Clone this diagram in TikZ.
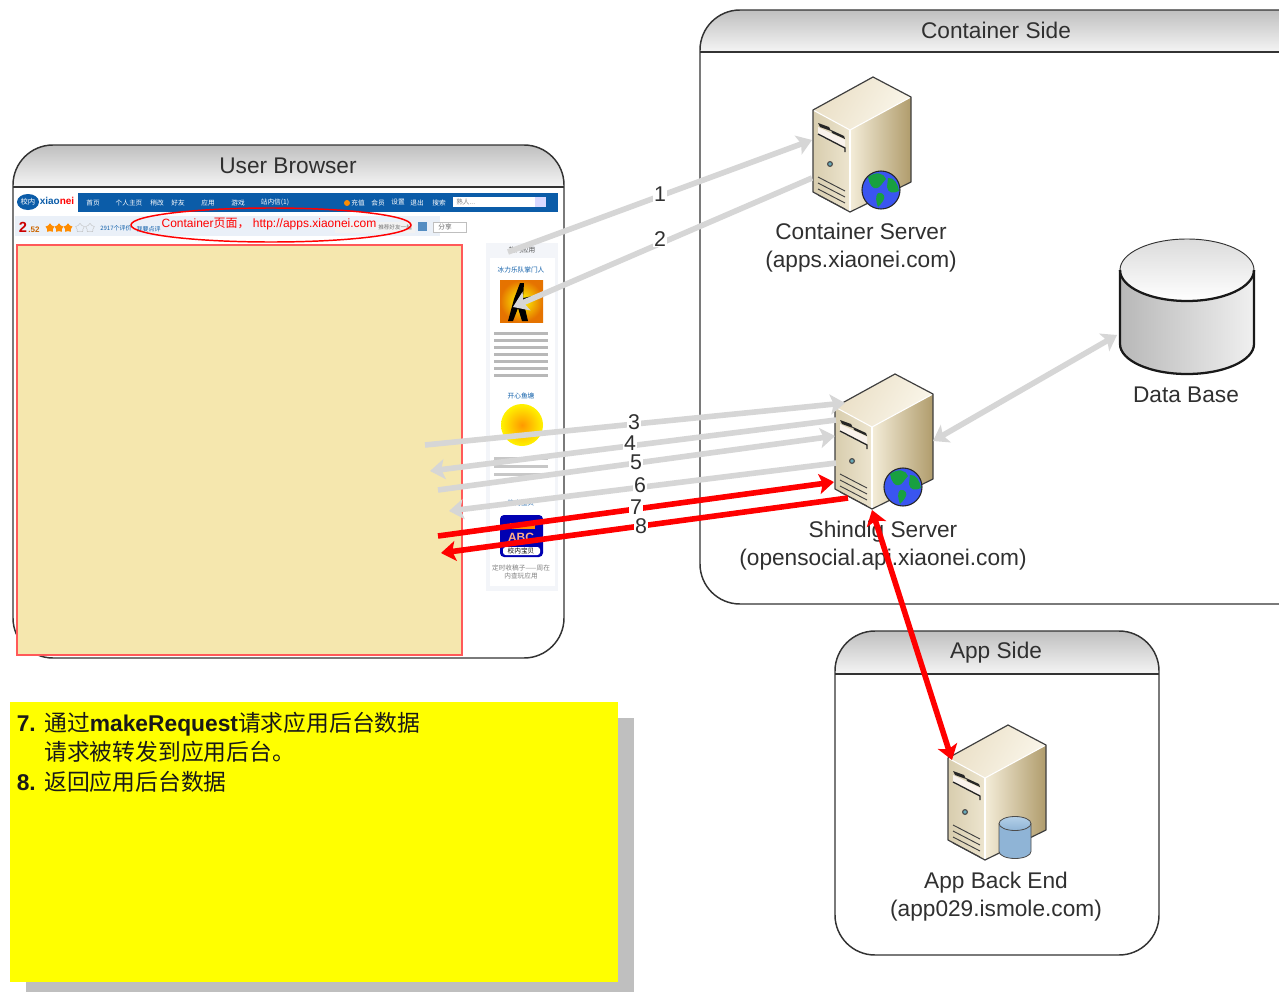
\documentclass[tikz,border=0pt]{standalone}
\usepackage{fontspec}
\setmainfont{Liberation Sans}
\newfontfamily\cjk{Noto Sans CJK SC}
\usetikzlibrary{arrows.meta,shapes.geometric}
\definecolor{graya}{HTML}{D6D6D6}
\definecolor{redb}{HTML}{FF0000}
\definecolor{barblue}{HTML}{0B5CA8}
\definecolor{beige}{HTML}{F5E7AE}
\definecolor{noteyellow}{HTML}{FFFF00}
\definecolor{inkc}{HTML}{303030}
\definecolor{srvtopa}{HTML}{FAF6EA}
\definecolor{srvtopb}{HTML}{EADFC6}
\definecolor{srvlefta}{HTML}{EDE5CF}
\definecolor{srvleftb}{HTML}{D8CDAE}
\definecolor{srvrighta}{HTML}{F4EDD9}
\definecolor{srvrightb}{HTML}{B09C6C}
\definecolor{globeb}{HTML}{3A55F0}
\definecolor{globeg}{HTML}{18A040}
\definecolor{dba}{HTML}{8FB4D6}
\definecolor{dbb}{HTML}{B4D0E8}
\definecolor{sideg}{HTML}{F3F5F9}
\definecolor{strip}{HTML}{EAF0F8}
\tikzset{
  paneltitle/.style={font=\fontsize{17}{20}\selectfont,text=inkc,inner sep=0pt},
  lab/.style={font=\fontsize{17}{21}\selectfont,text=inkc,align=center,inner sep=0pt},
  num/.style={font=\fontsize{16}{19}\selectfont,text=inkc,fill=white,inner xsep=.5pt,inner ysep=0pt,text height=11.4pt,text depth=0pt},
  headtip/.tip={Stealth[length=11pt,width=15pt,inset=2.5pt]},
  grayarrow/.style={draw=graya,line width=4.2pt,-headtip},
  grayboth/.style={draw=graya,line width=4.2pt,headtip-headtip},
  redarrow/.style={draw=redb,line width=4.2pt,-headtip},
  redboth/.style={draw=redb,line width=4.2pt,headtip-headtip},
  panel/.style={draw=black!80,line width=1.1pt,rounded corners=30pt},
  headfill/.style={top color=black!25,bottom color=black!4},
  tiny/.style={font=\cjk\fontsize{5}{6}\selectfont,inner sep=0pt},
  pics/serverbody/.style={code={
    \shade[left color=srvtopb,right color=srvtopa,shading angle=60] (0,0) -- (38,20) -- (-23,53) -- (-60,33) -- cycle;
    \shade[left color=srvrighta,right color=srvrightb] (-23,53) -- (38,20) -- (38,105) -- (-23,135) -- cycle;
    \shade[left color=srvleftb,right color=srvlefta] (-60,33) -- (-23,53) -- (-23,135) -- (-60,115) -- cycle;
    \draw[white,line width=.8pt] (-60,33) -- (-23,53) -- (38,20);
    \draw[white,line width=1pt] (-23,53) -- (-23,135);
    \draw[black!75,line width=.9pt,line join=round] (-60,33) -- (0,0) -- (38,20) -- (38,105) -- (-23,135) -- (-60,115) -- cycle;
    \fill[black!85] (-55,46) -- (-44,50) -- (-42,54) -- (-53,50) -- cycle;
    \fill[black!85] (-42,53) -- (-29,59) -- (-28,62) -- (-41,56) -- cycle;
    \fill[white!90!brown] (-55,50) -- (-28,63) -- (-28,71) -- (-55,58) -- cycle;
    \draw[black!85,line width=1pt] (-55,57) -- (-28,71) -- (-28,75);
    \fill[black!70] (-43,87) circle (3);
    \fill[green!45!blue!60!white] (-43,87) circle (1.8);
    \foreach \k in {0,6,12,18}{\draw[black!75,line width=.7pt] (-55,100+\k) -- (-28,114+\k);}
  }},
  pics/globeicon/.style={code={
    \fill[globeb] (0,0) circle (19);
    \fill[globeg] (-13,-13) .. controls (-5,-19) and (3,-17) .. (5,-11) .. controls (1,-7) and (-1,-2) .. (-4,-2) .. controls (-8,0) and (-12,-6) .. (-13,-13) -- cycle;
    \fill[globeg] (7,-12) .. controls (13,-13) and (17,-6) .. (18,1) .. controls (12,4) and (7,3) .. (6,-3) -- cycle;
    \fill[globeg] (-3,3) .. controls (3,2) and (5,7) .. (2,11) .. controls (0,14) and (-2,16) .. (-3,17) .. controls (-5,11) and (-6,7) .. (-3,3) -- cycle;
    \draw[black!85,line width=.8pt] (0,0) circle (19);
  }},
  pics/dbicon/.style={code={
    \shade[left color=dba,middle color=white,right color=dba] (-16,-14) -- (-16,14) arc[start angle=180,end angle=0,x radius=16,y radius=7] -- (16,-14) -- cycle;
    \shade[top color=dbb,bottom color=dba] (0,-14) ellipse (16 and 7);
    \draw[black!70,line width=.6pt] (-16,-14) -- (-16,14) arc[start angle=180,end angle=0,x radius=16,y radius=7] -- (16,-14);
    \draw[black!70,line width=.6pt] (0,-14) ellipse (16 and 7);
  }},
}
\begin{document}
\begin{tikzpicture}[x=0.75pt,y=-0.75pt]
\useasboundingbox (0,0) rectangle (1279,992);
\clip (0,0) rectangle (1279,992);
\fill[white] (0,0) rectangle (1279,992);

% ---------- container panel
\shade[headfill] (700,52) -- (700,50) .. controls (700,28) and (718,10) .. (740,10) -- (1340,10) -- (1340,52) -- cycle;
\draw[panel] (700,10) rectangle (1340,604);
\draw[black!80,line width=1.1pt] (700,52) -- (1279,52);
\node[paneltitle] (ctitle) at (996,30) {Container Side};

% ---------- app panel
\shade[headfill] (835,674) -- (835,671) .. controls (835,649) and (853,631) .. (875,631) -- (1119,631) .. controls (1141,631) and (1159,649) .. (1159,671) -- (1159,674) -- cycle;
\draw[panel] (835,631) rectangle (1159,955);
\draw[black!80,line width=1.1pt] (835,674) -- (1159,674);
\node[paneltitle] (atitle) at (996,653) {App Side};

% ---------- browser panel
\shade[headfill] (13,187) -- (13,185) .. controls (13,163) and (31,145) .. (53,145) -- (524,145) .. controls (546,145) and (564,163) .. (564,185) -- (564,187) -- cycle;
\draw[panel] (13,145) rectangle (564,658);
\draw[black!80,line width=1.1pt] (13,187) -- (564,187);
\node[paneltitle] (btitle) at (288,165.5) {User Browser};

% ---------- screenshot
\fill[barblue] (78,193) rectangle (558,212);
\fill[strip] (15,216) rectangle (440,236);
\fill[barblue] (28,202) ellipse (11 and 8);
\node[font=\cjk\fontsize{5.5}{6}\selectfont,text=white,inner sep=0pt] (logoa) at (28,202) {校内};
\node[font=\fontsize{7.5}{9}\selectfont\bfseries,inner sep=0pt] (logo) at (57,201) {\textcolor{barblue}{xiao}\textcolor{red}{nei}};
\foreach \x/\t in {93/首页,129/个人主页,157/稍改,178/好友,208/应用,238/游戏,275/站内信(1),358/充值,378/会员,398/设置,417/退出,439/搜索}{
  \node[tiny,text=white] at (\x,202.5) {\t};
}
\fill[orange!90!yellow] (347,203) circle (3);
\fill[white] (453,197) rectangle (535,207);
\fill[blue!15] (535,197) rectangle (546,207);
\node[tiny,text=black!50,anchor=west] (srch) at (456,202) {熟人...};
\node[font=\fontsize{11}{12}\selectfont\bfseries,text=red!80!black,inner sep=0pt] (rate) at (23,227) {2};
\node[font=\fontsize{6}{7}\selectfont\bfseries,text=orange!80!black,inner sep=0pt] (rateb) at (34,230) {.52};
\foreach \x in {50,59,68}{\node[star,star points=5,fill=orange!90!yellow,inner sep=0pt,minimum size=7] at (\x,228) {};}
\foreach \x in {80,90}{\node[star,star points=5,draw=black!25,line width=.3pt,inner sep=0pt,minimum size=7] at (\x,228) {};}
\node[tiny,text=barblue,anchor=west,font=\cjk\fontsize{4.5}{5}\selectfont] (rv) at (100,228) {2917个评价};
\node[tiny,text=barblue,anchor=east,font=\cjk\fontsize{4.5}{5}\selectfont] (rv2) at (161,229) {我要点评};
\fill[black!5] (335,222) rectangle (415,233);
\node[tiny,text=black!55,anchor=west,font=\cjk\fontsize{4.2}{5}\selectfont] (sh1) at (378,227) {推荐好友一起};
\fill[barblue!70] (418,222) rectangle (427,231);
\draw[black!25,line width=.4pt,fill=white] (433,222) rectangle (466,232);
\node[tiny,text=black!60] (sh2) at (445,227) {分享};
% sidebar
\fill[sideg] (486,243) rectangle (558,591);
\fill[white] (490,258) rectangle (555,586);
\node[tiny,text=black!70] (sb0) at (522,250) {热门应用};
\node[tiny,text=barblue] (sb1) at (521,270) {冰力乐队掌门人};
\shade[inner color=yellow,outer color=orange!90!black] (500,280) rectangle (543,322);
\fill[black] (520,283) -- (524,283) -- (523,298) -- (533,296) -- (534,300) -- (524,304) -- (528,321) -- (522,321) -- (518,308) -- (513,321) -- (508,321) -- (514,299) -- cycle;
\foreach \k in {0,7,14,21,28,35,42}{\fill[black!28] (494,332+\k) rectangle (548,335+\k);}
\node[tiny,text=barblue] (sb2) at (521,396) {开心鱼塘};
\shade[inner color=orange!80!yellow,outer color=yellow!90!orange] (522,425) circle (21);
\foreach \k in {0,8,16}{\fill[black!22] (494,457+\k) rectangle (548,460+\k);}
\node[tiny,text=barblue] (sb3) at (521,503) {校内宝贝};
\fill[blue!70!black,rounded corners=3pt] (500,515) rectangle (543,557);
\fill[orange!90!yellow] (510,523) rectangle (535,529);
\fill[white,rounded corners=2pt] (503,547) rectangle (540,555);
\node[font=\cjk\fontsize{5}{6}\selectfont,text=black,inner sep=0pt] (sb4) at (521,551) {校内宝贝};
\node[font=\fontsize{9}{10}\selectfont\bfseries,text=pink!70!orange,inner sep=0pt] (sb5) at (521,537) {ABC};
\node[tiny,text=black!50,align=center] (sb6) at (521,572) {定时收稿子——周在\\内查玩应用};
% main frame
\draw[fill=beige,draw=red!65!white,line width=1.5pt] (17,245) rectangle (462,655);
% ellipse label
\draw[red,line width=1.1pt] (271,225) ellipse (140 and 17);
\node[font=\fontsize{9}{11}\selectfont,text=red,inner sep=0pt] (clab) at (269,224.5) {Container{\cjk 页面，} http://apps.xiaonei.com};

% ---------- servers
\pic at (873,77) {serverbody};
\pic at (881,190) {globeicon};
\pic at (895,374) {serverbody};
\pic at (903,487) {globeicon};
\pic at (1008,725) {serverbody};
\pic at (1015,837.5) {dbicon};
\coordinate (csrv) at (873,77);
\coordinate (ssrv) at (895,374);
\coordinate (asrv) at (1008,725);

\node[lab] (cname) at (861,247.5) {Container Server\\(apps.xiaonei.com)};
\node[lab] (sname) at (883,545.5) {Shindig Server\\(opensocial.api.xiaonei.com)};
\node[lab] (aname) at (996,896.5) {App Back End\\(app029.ismole.com)};

% ---------- arrow ends
\coordinate (s1) at (508,252); \coordinate (e1) at (812,140);
\coordinate (s2) at (812,178); \coordinate (e2) at (513,307);
\coordinate (s3) at (425,445); \coordinate (e3) at (845,403);
\coordinate (s4) at (836,420); \coordinate (e4) at (430,471);
\coordinate (s5) at (438,490); \coordinate (e5) at (835,436);
\coordinate (s6) at (836,463); \coordinate (e6) at (449,511);
\coordinate (s7) at (438,536); \coordinate (e7) at (834,482);
\coordinate (s8) at (848,498); \coordinate (e8) at (441,553);
\coordinate (s9) at (872,510); \coordinate (e9) at (952,760);
\coordinate (s0) at (933,441); \coordinate (e0) at (1117,335);

\draw[grayboth] (s0) -- (e0);

% ---------- database
\shade[left color=black!28,right color=black!6] (1120,270) -- (1120,344) arc[start angle=180,end angle=0,x radius=67,y radius=30] -- (1254,270) -- cycle;
\shade[top color=black!14,bottom color=white] (1187,270) ellipse (67 and 31);
\draw[black!90,line width=1.7pt] (1120,270) -- (1120,344) arc[start angle=180,end angle=0,x radius=67,y radius=30] -- (1254,270);
\draw[black!90,line width=1.7pt] (1120,270) arc[start angle=180,end angle=0,x radius=67,y radius=31];
\draw[black!80,line width=.7pt] (1120,270) arc[start angle=-180,end angle=0,x radius=67,y radius=31];
\node[lab] (dbname) at (1186,395) {Data Base};

\draw[grayarrow] (s1) -- (e1);
\draw[grayarrow] (s2) -- (e2);
\draw[grayarrow] (s3) -- (e3);
\draw[grayarrow] (s4) -- (e4);
\draw[grayarrow] (s5) -- (e5);
\draw[grayarrow] (s6) -- (e6);
\draw[redarrow] (s7) -- (e7);
\draw[redarrow] (s8) -- (e8);
\draw[redboth] (s9) -- (e9);

\node[num] (n1) at (660,194) {1};
\node[num] (n2) at (660,239) {2};
\node[num] (n3) at (634,422) {3};
\node[num] (n4) at (630,443) {4};
\node[num] (n5) at (636,462) {5};
\node[num] (n6) at (640,485) {6};
\node[num] (n7) at (636,507) {7};
\node[num] (n8) at (641,525.5) {8};

% ---------- note
\fill[black!25] (26,718) rectangle (634,1000);
\fill[noteyellow] (10,702) rectangle (618,982);
\node[font=\fontsize{17.1}{22}\selectfont,text=black!90,anchor=north west,align=left,inner sep=0pt] (note) at (16.5,712)
 {\textbf{7.} {\cjk 通过}\textbf{makeRequest}{\cjk 请求应用后台数据}\\
  \phantom{\textbf{7.} }{\cjk 请求被转发到应用后台。}\\
  \textbf{8.} {\cjk 返回应用后台数据}};
\end{tikzpicture}
\end{document}
